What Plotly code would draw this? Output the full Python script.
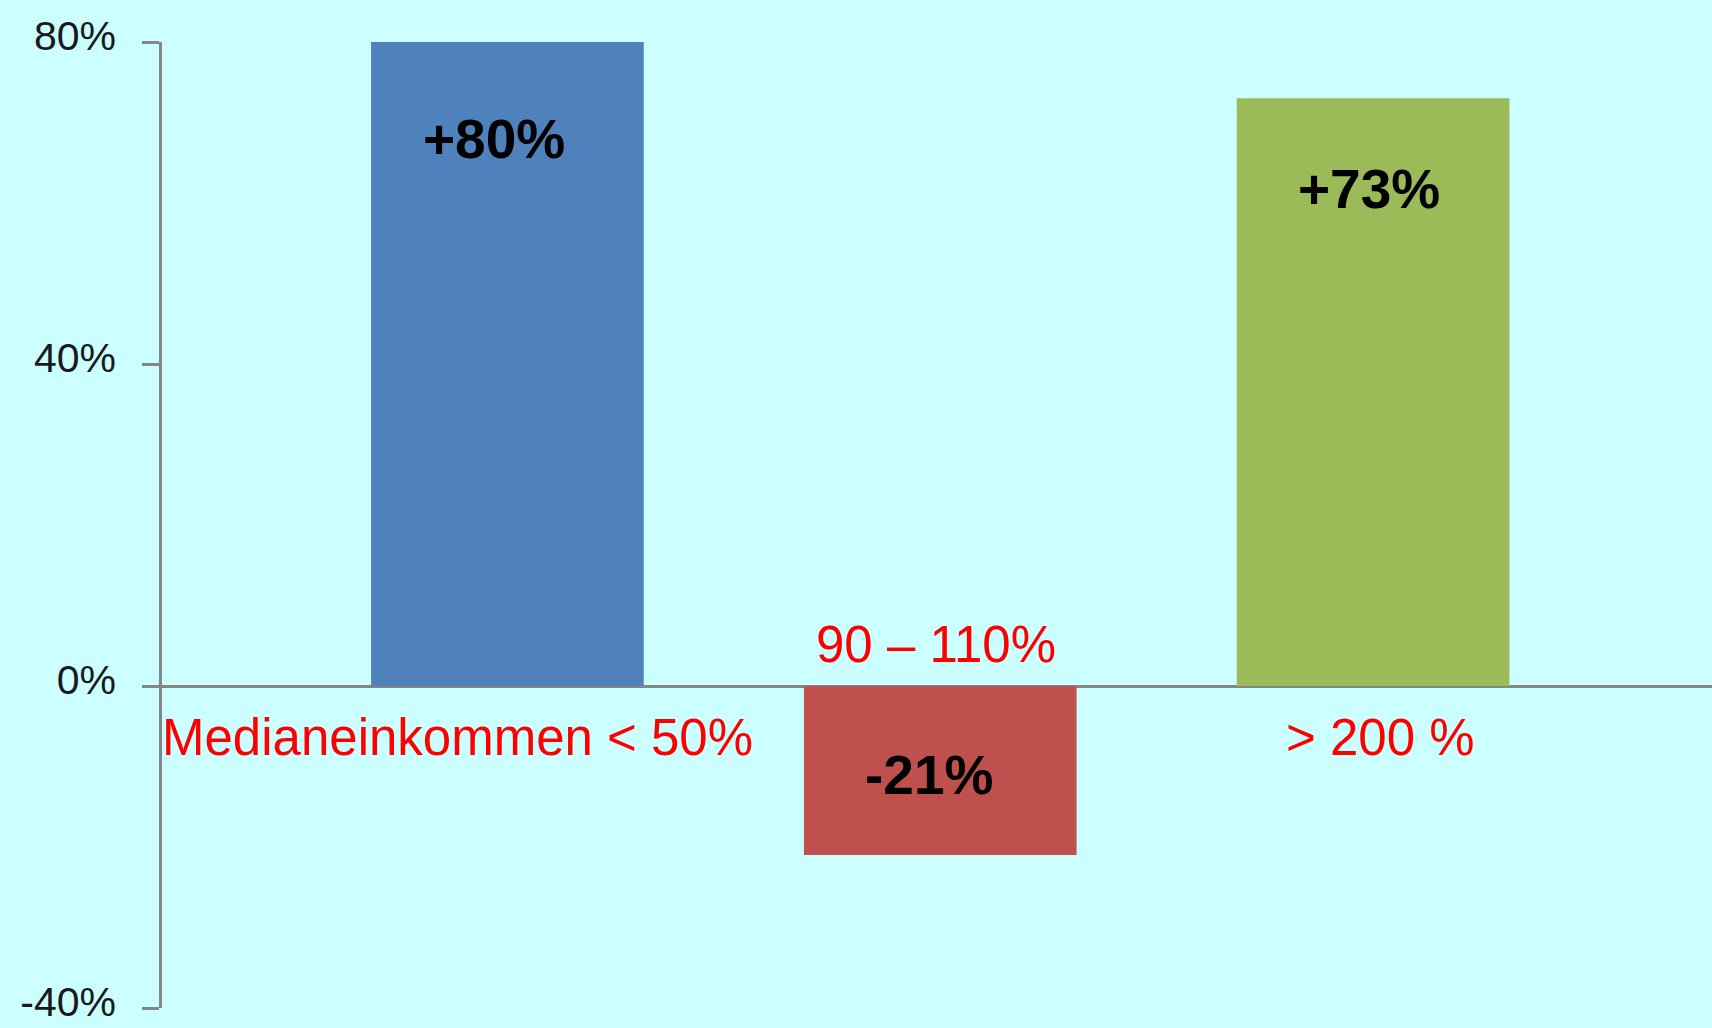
import plotly.graph_objects as go

categories = ["Medianeinkommen < 50%", "90 – 110%", "> 200 %"]
values = [80, -21, 73]
value_labels = ["+80%", "-21%", "+73%"]
bar_colors = ["#4F81BD", "#C0504D", "#9BBB59"]
tick_values = [-40, 0, 40, 80]
tick_labels = ["-40%", "0%", "40%", "80%"]

fig = go.Figure()
fig.add_trace(go.Bar(
    x=categories, y=values, width=0.63,
    marker=dict(color=bar_colors, line=dict(width=0)),
    hoverinfo="skip",
))

# value labels inside bars
label_xshift = [-13, -11, -4]
label_yshift = [-97, 80, -91]
for c, v, t, xs, ys in zip(categories, values, value_labels, label_xshift, label_yshift):
    fig.add_annotation(
        x=c, y=v, text=t, showarrow=False,
        yshift=ys, xshift=xs,
        font=dict(family="Liberation Sans", size=55, color="#000000", weight="bold"),
    )

# category labels
cat_xshift = [-50, -4, 7]
for c, v, xs in zip(categories, values, cat_xshift):
    fig.add_annotation(
        x=c, y=0, text=c, showarrow=False,
        yshift=-51 if v >= 0 else 42, xshift=xs,
        font=dict(family="Liberation Sans", size=51, color="#FF0000"),
    )

fig.update_layout(
    width=1712, height=1028,
    paper_bgcolor="#CCFFFF", plot_bgcolor="#CCFFFF",
    margin=dict(l=162, r=0, t=42, b=20, pad=0, autoexpand=False),
    showlegend=False,
    xaxis=dict(
        type="category", range=[-0.798, 2.783], automargin=False,
        showticklabels=False, showgrid=False, zeroline=False, showline=False, ticks="",
    ),
    yaxis=dict(
        range=[-40, 80], tickvals=tick_values, ticktext=tick_labels, automargin=False,
        showgrid=False, zeroline=True, zerolinecolor="#868686", zerolinewidth=2.5,
        showline=True, linecolor="#868686", linewidth=2.5,
        ticks="outside", ticklen=17, tickwidth=2.5, tickcolor="#868686",
        ticklabelstandoff=18, ticklabelshift=-6, ticklabeloverflow="allow",
        tickfont=dict(family="Liberation Sans", size=41, color="#1a1a1a"),
    ),
)

fig.write_html(
    "out.html",
    config={"displayModeBar": False},
    post_script="document.body.style.margin='0';document.body.style.overflow='hidden';",
)
